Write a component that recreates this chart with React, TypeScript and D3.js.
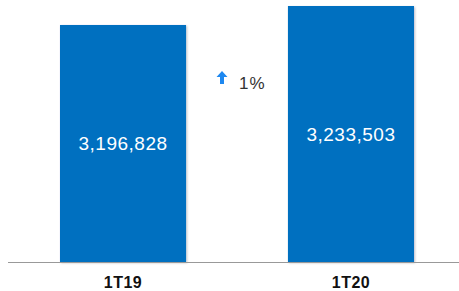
import React, { useEffect, useRef } from "react";
import * as d3 from "d3";

const periods = ["1T19", "1T20"];
const values = [3196828, 3233503];
const changeLabel = "1%";

const width = 459;
const height = 291;

export default function App() {
  const svgRef = useRef<SVGSVGElement | null>(null);

  useEffect(() => {
    if (!svgRef.current) return;
    const svg = d3.select(svgRef.current);
    svg.selectAll("*").remove();

    const baseY = 262;

    // axis doesn't start at zero in the original
    const x = d3.scaleBand<string>()
      .domain(periods)
      .range([3, 471])
      .paddingInner(0.447)
      .paddingOuter(0.25);

    const y = d3.scaleLinear()
      .domain([2739000, 3233503])
      .range([baseY, 6]);

    const defs = svg.append("defs");
    const f = defs.append("filter").attr("id", "shadow")
      .attr("x", "-5%").attr("y", "-5%").attr("width", "112%").attr("height", "112%");
    f.append("feDropShadow")
      .attr("dx", 1).attr("dy", 1).attr("stdDeviation", 1)
      .attr("flood-color", "#000").attr("flood-opacity", 0.25);

    const data = periods.map((p, i) => ({ p, v: values[i] }));

    svg.append("g")
      .selectAll("rect")
      .data(data)
      .join("rect")
      .attr("x", d => x(d.p)!)
      .attr("y", d => y(d.v))
      .attr("width", x.bandwidth())
      .attr("height", d => baseY - y(d.v))
      .attr("fill", "#0070c0")
      .attr("filter", "url(#shadow)");

    svg.append("g")
      .selectAll("text")
      .data(data)
      .join("text")
      .attr("x", d => x(d.p)! + x.bandwidth() / 2)
      .attr("y", d => (y(d.v) + baseY) / 2 + 1.5)
      .attr("text-anchor", "middle")
      .attr("dominant-baseline", "middle")
      .attr("fill", "#fff")
      .style("font-family", "Liberation Sans, Arial, sans-serif")
      .style("font-size", "19px")
      .style("letter-spacing", "0.5px")
      .text(d => d3.format(",")(d.v));

    // baseline
    svg.append("line")
      .attr("x1", 8).attr("x2", width)
      .attr("y1", baseY + 0.5).attr("y2", baseY + 0.5)
      .attr("stroke", "#999").attr("stroke-width", 1);

    svg.append("g")
      .selectAll("text")
      .data(periods)
      .join("text")
      .attr("x", d => x(d)! + x.bandwidth() / 2)
      .attr("y", 288)
      .attr("text-anchor", "middle")
      .attr("fill", "#111")
      .style("font-family", "Liberation Sans, Arial, sans-serif")
      .style("font-size", "16px")
      .style("font-weight", "bold")
      .style("letter-spacing", "0.5px")
      .text(d => d);

    // change indicator
    const ax = 222, ay = 71;
    svg.append("path")
      .attr("d", `M${ax},${ay} L${ax + 5.5},${ay + 6} L${ax + 2},${ay + 6} L${ax + 2},${ay + 13} L${ax - 2},${ay + 13} L${ax - 2},${ay + 6} L${ax - 5.5},${ay + 6} Z`)
      .attr("fill", "#1e88f0");

    svg.append("text")
      .attr("x", 239).attr("y", 89)
      .attr("fill", "#333")
      .style("font-family", "Liberation Sans, Arial, sans-serif")
      .style("font-size", "17px")
      .style("letter-spacing", "1px")
      .text(changeLabel);
  }, []);

  return (
    <svg
      ref={svgRef}
      width={width}
      height={height}
      style={{ position: "absolute", left: 0, top: 0, background: "#fff" }}
    />
  );
}
